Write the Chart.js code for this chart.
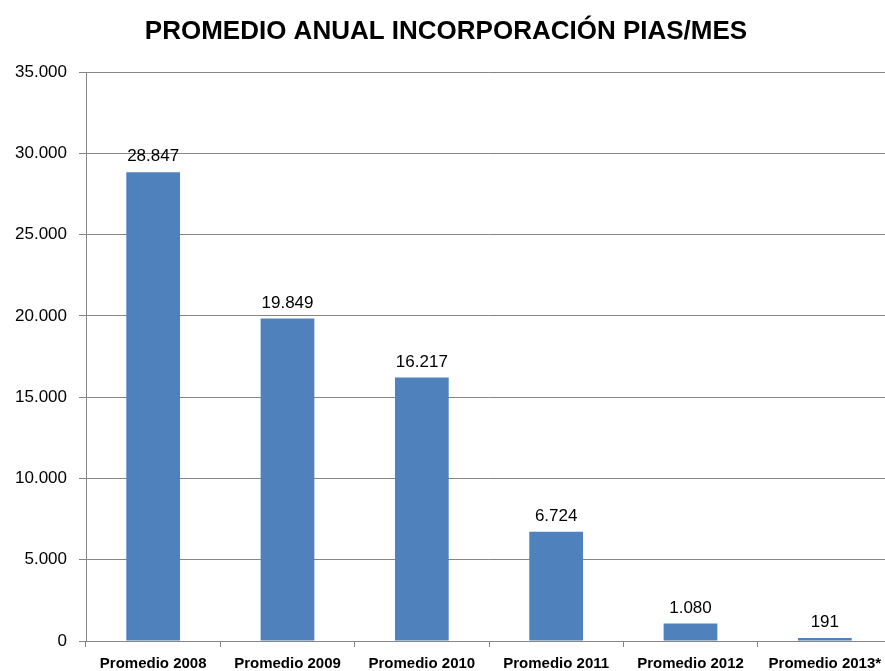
<!DOCTYPE html>
<html>
<head>
<meta charset="utf-8">
<script src="https://cdn.jsdelivr.net/npm/chart.js@4"></script>
<style>
  html, body { margin: 0; padding: 0; background: #fff; overflow: hidden; }
  #wrap { width: 892px; height: 671px; }
</style>
</head>
<body>
<div id="wrap"><canvas id="myChart"></canvas></div>
<script>
// Chart data
const categories = ['Promedio 2008', 'Promedio 2009', 'Promedio 2010', 'Promedio 2011', 'Promedio 2012', 'Promedio 2013*'];
const values = [28847, 19849, 16217, 6724, 1080, 191];
const yTicks = [0, 5000, 10000, 15000, 20000, 25000, 30000, 35000];

const fontFamily = '"Liberation Sans", Arial, sans-serif';

// thousands with a dot, like the original
function fmt(v) {
    return String(v).replace(/\B(?=(\d{3})+(?!\d))/g, '.');
}

// draw value labels above each bar
const valueLabels = {
    id: 'valueLabels',
    afterDatasetsDraw(chart) {
        const ctx = chart.ctx;
        const meta = chart.getDatasetMeta(0);
        ctx.save();
        ctx.font = '17px ' + fontFamily;
        ctx.fillStyle = '#000';
        ctx.textAlign = 'center';
        ctx.textBaseline = 'bottom';
        meta.data.forEach(function(bar, i) {
            ctx.fillText(fmt(values[i]), bar.x, bar.y - 7);
        });
        ctx.restore();
    }
};

const ctx = document.getElementById('myChart').getContext('2d');
window.myChart = new Chart(ctx, {
    type: 'bar',
    data: {
        labels: categories,
        datasets: [{
            data: values,
            backgroundColor: '#4F81BD',
            borderWidth: 0,
            categoryPercentage: 0.4,
            barPercentage: 1.0
        }]
    },
    options: {
        responsive: true,
        maintainAspectRatio: false,
        animation: false,
        layout: { padding: { left: 0, right: 0, top: 0, bottom: 0 } },
        plugins: {
            legend: { display: false },
            tooltip: { enabled: false },
            title: {
                display: true,
                text: 'PROMEDIO ANUAL INCORPORACIÓN PIAS/MES',
                color: '#000',
                font: { family: fontFamily, size: 26, weight: 'bold' },
                padding: { top: 16, bottom: 25 }
            }
        },
        scales: {
            x: {
                offset: true,
                grid: {
                    offset: true,
                    drawOnChartArea: false,
                    color: '#868686',
                    tickLength: 6
                },
                border: { color: '#868686', width: 1 },
                ticks: {
                    color: '#000',
                    padding: 8,
                    maxRotation: 0,
                    autoSkip: false,
                    font: { family: fontFamily, size: 15, weight: 'bold' }
                },
                afterFit: function(scale) { scale.height = 30; }
            },
            y: {
                min: 0,
                max: 35000,
                afterBuildTicks: function(scale) {
                    scale.ticks = yTicks.map(v => ({ value: v }));
                },
                grid: {
                    color: '#868686',
                    tickLength: 7
                },
                border: { color: '#868686', width: 1 },
                ticks: {
                    color: '#000',
                    padding: 12,
                    font: { family: fontFamily, size: 17 },
                    callback: function(v) { return fmt(v); }
                },
                afterFit: function(scale) { scale.width = 86; }
            }
        }
    },
    plugins: [valueLabels]
});
</script>
</body>
</html>
